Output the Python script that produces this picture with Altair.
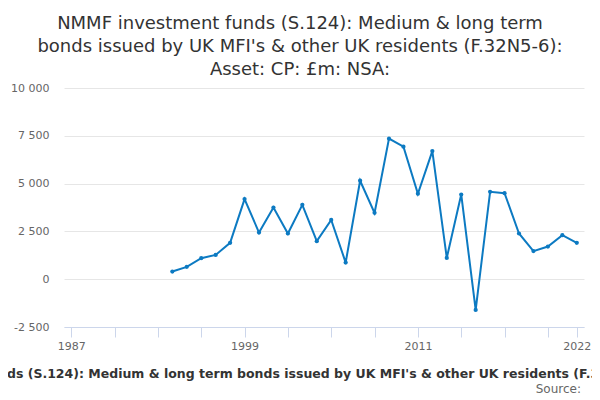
import altair as alt
import pandas as pd

years = list(range(1994, 2023))
values = [400, 645, 1100, 1270, 1900, 4190, 2440, 3750, 2390, 3890,
          1990, 3100, 870, 5150, 3470, 7350, 6930, 4470, 6700, 1115,
          4430, -1610, 4570, 4500, 2390, 1470, 1710, 2300, 1900]

title_lines = ["NMMF investment funds (S.124): Medium & long term",
               "bonds issued by UK MFI's & other UK residents (F.32N5-6):",
               "Asset: CP: £m: NSA:"]
x_title = "NMMF investment funds (S.124): Medium & long term bonds issued by UK MFI's & other UK residents (F.32N5-6): Asset: CP: £m: NSA:"
x_tick_values = list(range(1987, 2021, 3)) + [2022]
x_label_years = [1987, 1999, 2011, 2022]
y_tick_values = [-2500, 0, 2500, 5000, 7500, 10000]
source_text = ["Source:"]

df = pd.DataFrame({"year": years, "value": values})

FONT = "DejaVu Sans"
LINE = "#0c7ac2"

x_enc = alt.X(
    "year:Q",
    scale=alt.Scale(domain=[1986.5, 2022.5], nice=False, zero=False),
    axis=alt.Axis(
        values=x_tick_values,
        labelExpr="indexof(" + str(x_label_years) + ", datum.value) >= 0 ? '' + datum.value : ''",
        grid=False,
        domainColor="#ccd6eb",
        tickColor="#ccd6eb",
        tickSize=10,
        labelPadding=3,
        labelColor="#666666",
        labelFontSize=11,
        labelFont=FONT,
        title=x_title,
        titleFont=FONT,
        titleFontSize=12.5,
        titleFontWeight="bold",
        titleColor="#333333",
        titlePadding=16,
    ),
)
y_enc = alt.Y(
    "value:Q",
    scale=alt.Scale(domain=[-2500, 10000], nice=False),
    axis=alt.Axis(
        values=y_tick_values,
        labelExpr="replace(replace(format(datum.value, ','), ',', ' '), '\u2212', '-')",
        domain=False,
        ticks=False,
        gridColor="#e6e6e6",
        labelPadding=15,
        labelColor="#666666",
        labelFontSize=11,
        labelFont=FONT,
        title=None,
    ),
)

line = alt.Chart(df).mark_line(color=LINE, strokeWidth=2).encode(x=x_enc, y=y_enc)
pts = alt.Chart(df).mark_circle(color=LINE, size=18, opacity=1).encode(x="year:Q", y="value:Q")

src = alt.Chart(pd.DataFrame({"t": source_text})).mark_text(
    align="right", baseline="middle", font=FONT, fontSize=12, color="#666666"
).encode(text="t:N", x=alt.value(517), y=alt.value(301))

chart = alt.layer(line, pts, src).properties(
    width=520,
    height=239,
    autosize=alt.AutoSizeParams(type="none"),
    padding={"left": 56, "top": 80, "right": 8, "bottom": 73},
    title=alt.TitleParams(
        text=title_lines,
        font=FONT,
        fontSize=18,
        fontWeight="normal",
        color="#333333",
        lineHeight=23,
        anchor="middle",
        frame="group",
        dx=-24,
        offset=3,
    ),
).configure_view(stroke=None)

chart.save("out.html", embed_options={"renderer": "svg", "actions": False})
